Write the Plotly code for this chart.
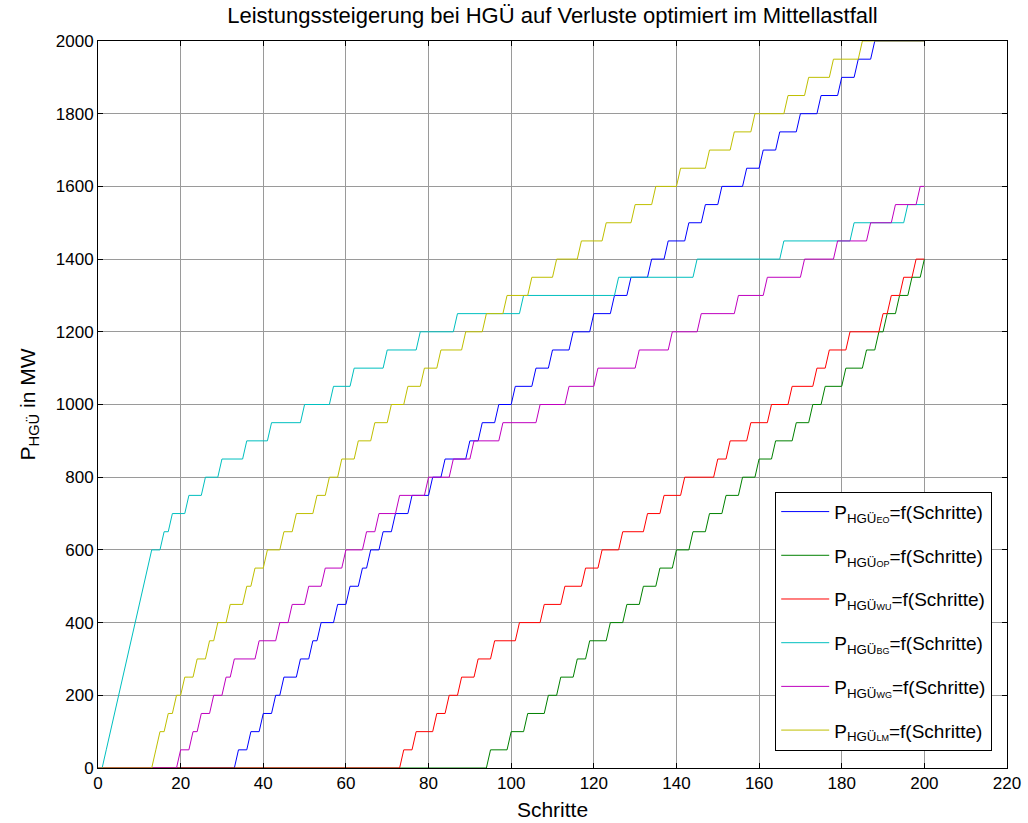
import plotly.graph_objects as go

# Schritte (steps) on the x axis
steps = list(range(0, 201))
level_step_mw = 50

# Step index at which each series reaches its next 50 MW level
eo_arrivals = [34, 37, 40, 43, 45, 49, 52, 54, 58, 61, 64, 66, 69, 72, 76, 81, 84, 90, 93, 97,
               101, 106, 110, 115, 120, 125, 129, 134, 138, 143, 147, 151, 157, 161, 165, 170,
               175, 180, 184, 188]
op_arrivals = [95, 100, 104, 109, 112, 116, 119, 124, 128, 132, 136, 140, 144, 148, 152, 156,
               160, 164, 169, 173, 176, 181, 186, 189, 191, 194, 197, 200]
wu_arrivals = [74, 77, 82, 85, 88, 92, 96, 102, 108, 113, 118, 122, 127, 133, 137, 142, 150,
               153, 158, 163, 168, 174, 177, 182, 190, 192, 195, 198]
bg_arrivals = [2, 3, 4, 5, 6, 7, 8, 9, 10, 11, 12, 13, 16, 18, 22, 26, 30, 36, 42, 50, 57, 62,
               70, 78, 87, 103, 126, 145, 166, 183, 196]
wg_arrivals = [20, 23, 25, 28, 31, 33, 39, 44, 47, 51, 55, 60, 65, 68, 73, 80, 86, 91, 98, 107,
               114, 121, 131, 139, 146, 155, 162, 171, 179, 187, 193, 199]
lm_arrivals = [14, 15, 17, 19, 21, 24, 27, 29, 32, 36, 38, 41, 45, 48, 53, 56, 59, 63, 67, 71,
               75, 79, 83, 89, 94, 99, 105, 111, 117, 123, 130, 135, 141, 148, 154, 159, 167,
               172, 178, 185]

series_tags = ["EO", "OP", "WU", "BG", "WG", "LM"]
series_arrivals = [eo_arrivals, op_arrivals, wu_arrivals, bg_arrivals, wg_arrivals, lm_arrivals]
series_colors = ["#0000ff", "#008000", "#ff0000", "#00bfbf", "#bf00bf", "#bfbf00"]

x_ticks = list(range(0, 221, 20))
y_ticks = list(range(0, 2001, 200))


def levels(arrivals):
    return [level_step_mw * sum(1 for a in arrivals if a <= s) for s in steps]


FONT = "Liberation Sans, Arial, sans-serif"

fig = go.Figure()
for tag, arr, col in zip(series_tags, series_arrivals, series_colors):
    name = ("P<sub>HGÜ<span style='font-size:9px'>" + tag + "</span></sub>=f(Schritte)")
    fig.add_trace(go.Scatter(
        x=steps, y=levels(arr), mode="lines", name=name,
        line=dict(color=col, width=1), legendgroup=tag,
    ))

axis_common = dict(
    showline=True, linecolor="black", linewidth=1, mirror="ticks",
    ticks="inside", ticklen=5, tickcolor="black",
    showgrid=True, gridcolor="#9a9a9a", gridwidth=1, zeroline=False,
    tickfont=dict(family=FONT, size=17, color="black"),
    automargin=False,
)

fig.update_layout(
    width=1028, height=823,
    margin=dict(l=98, r=21, t=41, b=55),
    paper_bgcolor="white", plot_bgcolor="white",
    font=dict(family=FONT, color="black"),
    title=dict(text="Leistungssteigerung bei HGÜ auf Verluste optimiert im Mittellastfall",
               x=0.5, xref="paper", xanchor="center", y=0.982, yanchor="middle",
               font=dict(family=FONT, size=22, color="black")),
    xaxis=dict(range=[0, 220], tickvals=x_ticks,
               title=dict(text="Schritte", font=dict(family=FONT, size=21), standoff=9),
               **axis_common),
    yaxis=dict(range=[0, 2000], tickvals=y_ticks,
               title=dict(text="P<sub>HGÜ</sub> in MW", font=dict(family=FONT, size=21), standoff=14),
               **axis_common),
    legend=dict(x=0.745, y=0.38, xanchor="left", yanchor="top",
                bordercolor="black", borderwidth=1, bgcolor="white",
                font=dict(family=FONT, size=19, color="black"),
                itemwidth=48, tracegroupgap=16, traceorder="grouped"),
    showlegend=True,
)

fig.write_html("out.html")
